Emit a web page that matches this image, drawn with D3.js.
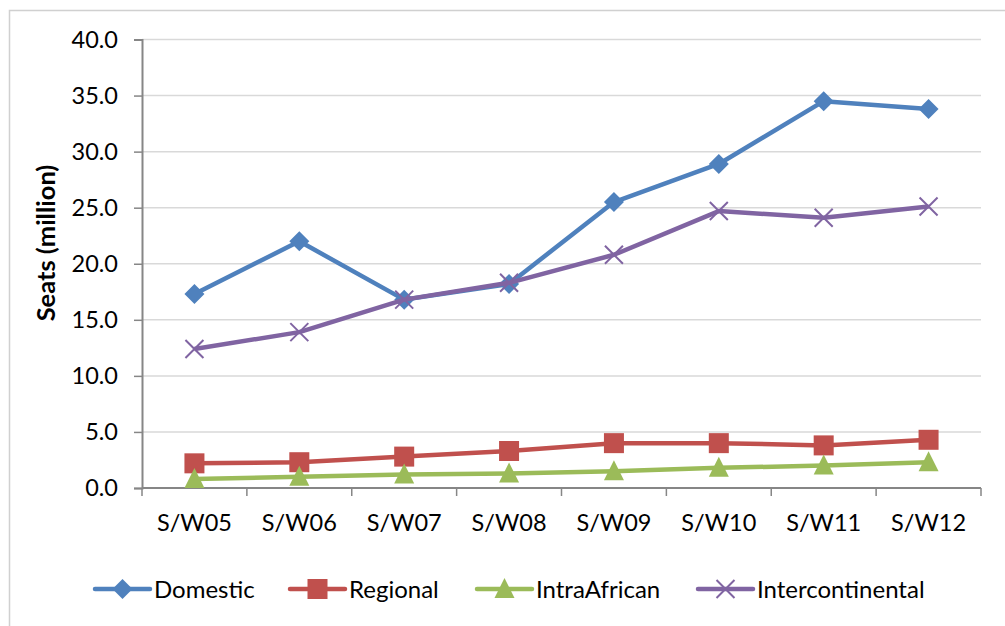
<!DOCTYPE html>
<html>
<head>
<meta charset="utf-8">
<script src="https://cdn.jsdelivr.net/npm/d3@7"></script>
<style>
  html, body { margin: 0; padding: 0; background: #ffffff; }
  svg { display: block; }
  text { font-family: Lato, "Open Sans", sans-serif; fill: #000; }
</style>
</head>
<body>
<svg id="chart" width="1005" height="626"></svg>
<script>
// Seat capacity by season (million seats)
const seasons = ["S/W05", "S/W06", "S/W07", "S/W08", "S/W09", "S/W10", "S/W11", "S/W12"];
const domestic = [17.3, 22.0, 16.8, 18.2, 25.5, 28.9, 34.5, 33.8];
const regional = [2.2, 2.3, 2.8, 3.3, 4.0, 4.0, 3.8, 4.3];
const intraAfrican = [0.8, 1.0, 1.2, 1.3, 1.5, 1.8, 2.0, 2.3];
const intercontinental = [12.4, 13.9, 16.8, 18.3, 20.8, 24.7, 24.1, 25.1];
const yTicks = [0, 5, 10, 15, 20, 25, 30, 35, 40];

const series = [
  { name: "Domestic", values: domestic, color: "#4F81BD", marker: "diamond" },
  { name: "Regional", values: regional, color: "#C0504D", marker: "square" },
  { name: "IntraAfrican", values: intraAfrican, color: "#9BBB59", marker: "triangle" },
  { name: "Intercontinental", values: intercontinental, color: "#8064A2", marker: "cross" }
];

const svg = d3.select("#chart");

// outer chart frame
svg.append("rect")
  .attr("x", 9.5).attr("y", 10.5)
  .attr("width", 1020).attr("height", 640)
  .attr("fill", "none").attr("stroke", "#d0d0d0").attr("stroke-width", 1.5);

const x = d3.scaleBand().domain(seasons).range([142, 981]);
const y = d3.scaleLinear().domain([0, 40]).range([488, 39.5]);

// horizontal gridlines
svg.append("g")
  .selectAll("line")
  .data(yTicks.filter(d => d > 0))
  .join("line")
  .attr("x1", 142).attr("x2", 981)
  .attr("y1", d => y(d)).attr("y2", d => y(d))
  .attr("stroke", "#d9d9d9").attr("stroke-width", 1.5);

// y axis
const yAxis = svg.append("g")
  .attr("transform", "translate(142,0)")
  .call(d3.axisLeft(y).tickValues(yTicks).tickFormat(d3.format(".1f")).tickSize(8).tickPadding(16));
yAxis.select(".domain").attr("stroke", "#868686").attr("stroke-width", 2);
yAxis.selectAll(".tick line").attr("stroke", "#868686").attr("stroke-width", 1.5);
yAxis.selectAll(".tick text")
  .attr("font-family", "Lato, sans-serif").attr("font-size", 23.5).attr("fill", "#000");

// x axis with ticks on category boundaries
const xAxis = svg.append("g").attr("transform", "translate(0,488)");
xAxis.append("line")
  .attr("x1", 142).attr("x2", 981).attr("stroke", "#868686").attr("stroke-width", 2);
const bounds = seasons.map(s => x(s)).concat([x(seasons[seasons.length - 1]) + x.bandwidth()]);
xAxis.selectAll("line.tk")
  .data(bounds)
  .join("line").attr("class", "tk")
  .attr("x1", d => d).attr("x2", d => d)
  .attr("y1", 0).attr("y2", 8)
  .attr("stroke", "#868686").attr("stroke-width", 1.5);
xAxis.selectAll("text")
  .data(seasons)
  .join("text")
  .attr("x", d => x(d) + x.bandwidth() / 2)
  .attr("y", 43)
  .attr("text-anchor", "middle")
  .attr("font-size", 23.5)
  .text(d => d);

// y axis title
svg.append("text")
  .attr("transform", "translate(55,243) rotate(-90)")
  .attr("text-anchor", "middle")
  .attr("font-size", 25.5)
  .attr("font-weight", "bold")
  .text("Seats (million)");

const cx = (d, i) => x(seasons[i]) + x.bandwidth() / 2;

function drawMarker(g, type, color) {
  if (type === "diamond") {
    g.append("path").attr("d", "M0,-10L10,0L0,10L-10,0Z").attr("fill", color);
  } else if (type === "square") {
    g.append("rect").attr("x", -10).attr("y", -10).attr("width", 20).attr("height", 20).attr("fill", color);
  } else if (type === "triangle") {
    g.append("path").attr("d", "M0,-11L10,9L-10,9Z").attr("fill", color);
  } else if (type === "cross") {
    g.append("path").attr("d", "M-9,-9L9,9M-9,9L9,-9")
      .attr("stroke", color).attr("stroke-width", 2).attr("fill", "none");
  }
}

const line = d3.line().x(cx).y(d => y(d));

// series lines and markers
series.forEach(s => {
  const g = svg.append("g");
  g.append("path")
    .attr("d", line(s.values))
    .attr("fill", "none")
    .attr("stroke", s.color)
    .attr("stroke-width", 4.5)
    .attr("stroke-linejoin", "round");
  s.values.forEach((v, i) => {
    const m = g.append("g").attr("transform", `translate(${cx(v, i)},${y(v)})`);
    drawMarker(m, s.marker, s.color);
  });
});

// legend
const legendX = [95, 290, 477, 698];
series.forEach((s, i) => {
  const g = svg.append("g").attr("transform", `translate(${legendX[i]},589)`);
  g.append("line")
    .attr("x1", 0).attr("x2", 55)
    .attr("stroke", s.color).attr("stroke-width", 4.5).attr("stroke-linecap", "round");
  const m = g.append("g").attr("transform", "translate(27.5,0)");
  drawMarker(m, s.marker, s.color);
  g.append("text")
    .attr("x", 59).attr("y", 9)
    .attr("font-size", 24)
    .text(s.name);
});
</script>
</body>
</html>
